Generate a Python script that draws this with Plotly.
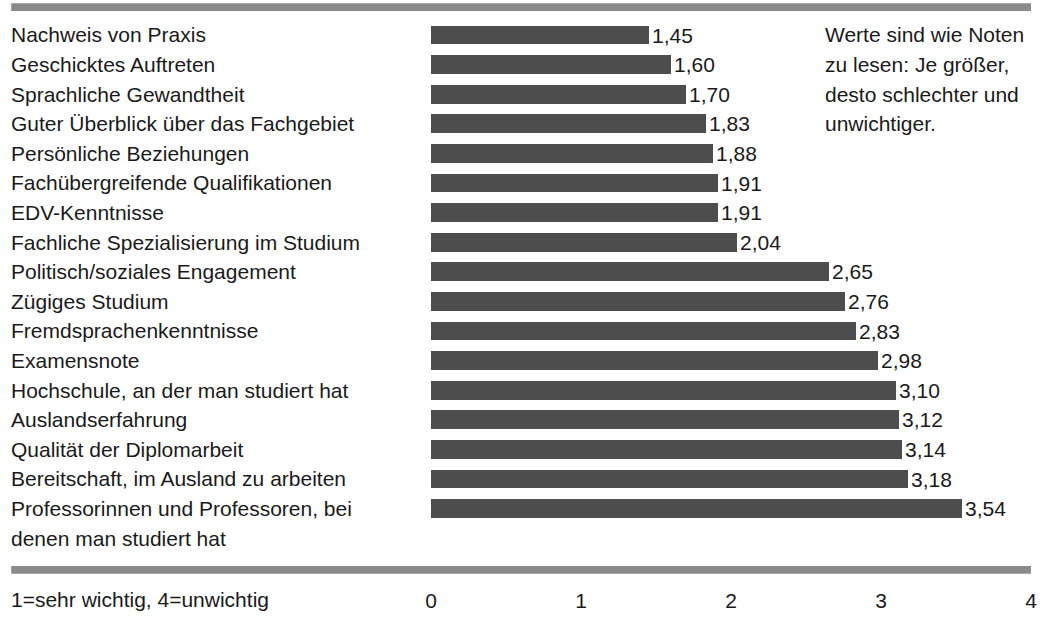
import plotly.graph_objects as go

# Survey items (top to bottom) and their mean ratings (1 = very important, 4 = unimportant)
categories = [
    "Nachweis von Praxis",
    "Geschicktes Auftreten",
    "Sprachliche Gewandtheit",
    "Guter Überblick über das Fachgebiet",
    "Persönliche Beziehungen",
    "Fachübergreifende Qualifikationen",
    "EDV-Kenntnisse",
    "Fachliche Spezialisierung im Studium",
    "Politisch/soziales Engagement",
    "Zügiges Studium",
    "Fremdsprachenkenntnisse",
    "Examensnote",
    "Hochschule, an der man studiert hat",
    "Auslandserfahrung",
    "Qualität der Diplomarbeit",
    "Bereitschaft, im Ausland zu arbeiten",
    "Professorinnen und Professoren, bei\ndenen man studiert hat",
]
values = [1.45, 1.60, 1.70, 1.83, 1.88, 1.91, 1.91, 2.04, 2.65, 2.76,
          2.83, 2.98, 3.10, 3.12, 3.14, 3.18, 3.54]
tick_values = [0, 1, 2, 3, 4]
scale_note = "1=sehr wichtig, 4=unwichtig"
note_lines = ["Werte sind wie Noten", "zu lesen: Je größer,",
              "desto schlechter und", "unwichtiger."]

FONT = "Liberation Sans, Arial, sans-serif"
TEXT_COLOR = "#1a1a1a"
BAR_COLOR = "#4d4d4d"
RULE_COLOR = "#8a8a8a"
W, H = 1048, 623
ML, MR, MT, MB = 431, 11, 11, 45
plot_w = W - ML - MR
plot_h = H - MT - MB
label_x = (5 - ML) / plot_w  # left edge of the category column, in paper units
rule_x0 = (7 - ML) / plot_w

rows = list(range(len(categories)))
value_text = [f"{v:.2f}".replace(".", ",") for v in values]

fig = go.Figure(go.Bar(
    x=values,
    y=rows,
    orientation="h",
    width=0.63,
    marker=dict(color=BAR_COLOR, line=dict(width=0)),
    text=value_text,
    textposition="outside",
    constraintext="none",
    textfont=dict(family=FONT, size=21, color=TEXT_COLOR),
    cliponaxis=False,
    hoverinfo="skip",
))

annotations = []
# Category labels, one annotation per text line
for i, label in enumerate(categories):
    for k, line in enumerate(label.split("\n")):
        annotations.append(dict(
            text=line, xref="paper", x=label_x, xanchor="left",
            yref="y", y=i + k, yanchor="middle", showarrow=False,
            font=dict(family=FONT, size=21, color=TEXT_COLOR),
        ))
# Reading hint at top right, lines on the row grid
for k, line in enumerate(note_lines):
    annotations.append(dict(
        text=line, xref="paper", x=(827 - ML) / plot_w, xanchor="left",
        yref="y", y=k, yanchor="middle", showarrow=False,
        font=dict(family=FONT, size=21, color=TEXT_COLOR),
    ))
# Scale legend beside the axis labels
annotations.append(dict(
    text=scale_note, xref="paper", x=label_x, xanchor="left",
    yref="paper", y=-(612 - (MT + plot_h)) / plot_h, yanchor="middle",
    showarrow=False, font=dict(family=FONT, size=21, color=TEXT_COLOR),
))

rule = 8 / plot_h
shapes = [
    dict(type="rect", xref="paper", yref="paper", x0=rule_x0, x1=1,
         y0=1, y1=1 + rule, fillcolor=RULE_COLOR, line=dict(width=0)),
    dict(type="rect", xref="paper", yref="paper", x0=rule_x0, x1=1,
         y0=-rule, y1=0, fillcolor=RULE_COLOR, line=dict(width=0)),
]

row_px = 30.24
first_center = 35.5
y_top = (MT - first_center) / row_px
y_bottom = (MT + plot_h - first_center) / row_px

fig.update_layout(
    width=W, height=H,
    margin=dict(l=ML, r=MR, t=MT, b=MB, pad=0),
    paper_bgcolor="white", plot_bgcolor="white",
    showlegend=False,
    bargap=0,
    xaxis=dict(range=[0, 4], tickvals=tick_values, ticktext=[str(t) for t in tick_values],
               showgrid=False, zeroline=False, showline=False, ticks="",
               tickfont=dict(family=FONT, size=21, color=TEXT_COLOR),
               ticklabelstandoff=20, fixedrange=True),
    yaxis=dict(range=[y_bottom, y_top], showgrid=False, zeroline=False,
               showline=False, showticklabels=False, ticks="", fixedrange=True),
    annotations=annotations,
    shapes=shapes,
)

fig.write_html("out.html", config={"displayModeBar": False})
